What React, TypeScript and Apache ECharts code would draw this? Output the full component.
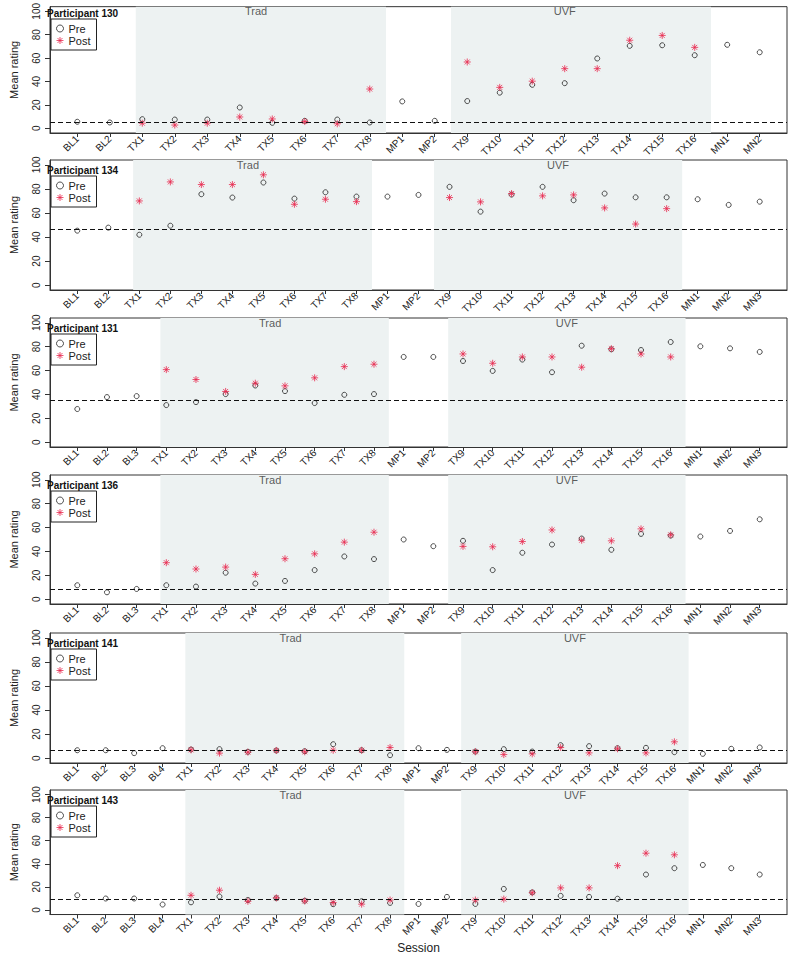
import React, { useEffect, useRef } from "react";
import * as echarts from "echarts";

// ---------- Data ----------
const S130 = ["BL1","BL2","TX1","TX2","TX3","TX4","TX5","TX6","TX7","TX8","MP1","MP2","TX9","TX10","TX11","TX12","TX13","TX14","TX15","TX16","MN1","MN2"];
const S134 = ["BL1","BL2","TX1","TX2","TX3","TX4","TX5","TX6","TX7","TX8","MP1","MP2","TX9","TX10","TX11","TX12","TX13","TX14","TX15","TX16","MN1","MN2","MN3"];
const S131 = ["BL1","BL2","BL3","TX1","TX2","TX3","TX4","TX5","TX6","TX7","TX8","MP1","MP2","TX9","TX10","TX11","TX12","TX13","TX14","TX15","TX16","MN1","MN2","MN3"];
const S136 = S131;
const S141 = ["BL1","BL2","BL3","BL4","TX1","TX2","TX3","TX4","TX5","TX6","TX7","TX8","MP1","MP2","TX9","TX10","TX11","TX12","TX13","TX14","TX15","TX16","MN1","MN2","MN3"];
const S143 = S141;

const PRE130 = [5.6,5,7.8,7.5,7.5,17.8,4.7,6.4,7.5,5,23,6.4,23.3,30.5,37.2,38.6,59.7,70.5,71,62.5,71.4,65];
const POST130 = [null,null,4.4,2.8,4.4,9.7,8,5.8,3.9,33.6,null,null,56.7,35,40.3,51,51,75.3,79.4,69.2,null,null];

const PRE134 = [45.3,47.8,41.9,49.4,75.6,72.8,85.3,71.9,77.2,73.6,73.6,75,81.7,61.1,75.3,81.7,70.6,76.1,73,73,71.4,66.7,69.4];
const POST134 = [null,null,70,85.8,83.6,83.6,91.7,67.2,71.4,69.4,null,null,72.8,69.2,76.1,74.2,75,64.2,50.8,63.6,null,null,null];

const PRE131 = [27.8,37.8,38.6,31.1,33.6,40.3,47.5,42.8,32.8,39.7,40.3,71.4,71.4,68,59.7,69.2,58.6,80.8,77.8,77.2,83.9,80.3,78.6,75.6];
const POST131 = [null,null,null,60.8,52.5,42.5,49.4,47.2,53.9,63.3,65.3,null,null,73.9,66.1,71.4,71.4,62.8,78.3,73.9,71.4,null,null,null];

const PRE136 = [11.7,5.8,8.6,11.7,10.6,22.2,13.1,15.3,24.4,35.8,33.6,50,44.4,48.9,24.4,38.9,45.8,50.8,41.4,54.7,53.3,52.5,57.2,66.9];
const POST136 = [null,null,null,30.6,25.3,26.9,20.8,33.9,38,47.8,56.1,null,null,44.2,43.9,48.3,58,49.4,48.9,58.9,53.9,null,null,null];

const PRE141 = [6.6,6.6,4.2,8.3,7.2,7.5,5.3,6.4,5.8,11.6,6.6,2.5,8.3,6.9,5.5,7.5,5.5,10.8,10,8.3,8.6,5,3.6,7.8,8.9];
const POST141 = [null,null,null,null,6.9,4.2,5,6.4,5.3,6.6,6.6,8.9,null,null,5.3,3,3.6,8.9,4.4,7.8,4.4,13.6,null,null,null];

const PRE143 = [12.7,9.9,9.9,4.7,6.6,11.6,8.6,10.2,8,5,7.5,6.1,5.2,11.3,5.2,18.2,15.2,12.2,11.3,9.7,30.7,36.2,39,36.2,30.7];
const POST143 = [null,null,null,null,12.7,17.1,7.5,10.5,7.7,6.4,5,8.6,null,null,8.6,9.4,14.9,19.1,19.1,38.4,49.2,47.8,null,null,null];

const PARTICIPANTS = ["130","134","131","136","141","143"];
const SESSIONS = [S130, S134, S131, S136, S141, S143];
const PRE = [PRE130, PRE134, PRE131, PRE136, PRE141, PRE143];
const POST = [POST130, POST134, POST131, POST136, POST141, POST143];
const BASELINE = [5.3, 46.5, 35.3, 8.7, 6.4, 9.5];
const Y_TICKS = [0, 20, 40, 60, 80, 100];
const PHASES = ["Trad", "UVF"];

// ---------- Layout / style ----------
const GRID_TOPS = [3, 160, 318, 475, 633, 790];
const GRID_H = [130, 130, 129, 129, 130, 130];
const UVF_LABEL_SHIFT = [3.0, 3.5, 3.5, 3.5, 3.5, 3.5];
const FONT = "'Liberation Sans', Arial, Helvetica, sans-serif";
const RED = "#e8294f";
const INK = "#222";
const SHADE = "#edf2f2";
const ASTERISK = "path://M0,-10L0,10M-10,0L10,0M-7.07,-7.07L7.07,7.07M-7.07,7.07L7.07,-7.07";

function buildOption() {
  const grid: any[] = [];
  const xAxis: any[] = [];
  const yAxis: any[] = [];
  const series: any[] = [];
  const legend: any[] = [];
  const title: any[] = [];

  PARTICIPANTS.forEach((pid, i) => {
    const sessions = SESSIONS[i];
    const n = sessions.length;
    const pad = 0.04 * (n - 1);
    const ticks = sessions.map((_, k) => k + 1);
    const pos = (name: string) => sessions.indexOf(name) + 1;
    const tradStart = pos("TX1") - 0.2;
    const tradEnd = pos("TX8") + 0.5;
    const uvfStart = pos("TX9") - 0.5;
    const uvfEnd = pos("TX16") + 0.5;

    grid.push({
      left: 40, right: 3, top: GRID_TOPS[i], height: GRID_H[i],
      show: true, borderColor: "#333", borderWidth: 1, backgroundColor: "transparent",
    });
    xAxis.push({
      type: "value", gridIndex: i, min: 1 - pad, max: n + pad,
      axisLine: { show: true, onZero: false, lineStyle: { color: "#333", width: 1 } },
      axisTick: { show: true, customValues: ticks, length: 4, lineStyle: { color: "#333" } },
      axisLabel: {
        customValues: ticks, rotate: 45, margin: 4, fontSize: 10, color: INK, fontFamily: FONT,
        padding: [10, 0, 0, 0],
        formatter: (v: number) => sessions[Math.round(v) - 1] ?? "",
      },
      splitLine: { show: false },
      name: i === 5 ? "Session" : "",
      nameLocation: "middle", nameGap: 27,
      nameTextStyle: { fontSize: 12, color: INK, fontFamily: FONT },
    });
    yAxis.push({
      type: "value", gridIndex: i, min: -4, max: 104,
      axisLine: { show: true, onZero: false, lineStyle: { color: "#333", width: 1 } },
      axisTick: { show: true, customValues: Y_TICKS, length: 5, lineStyle: { color: "#333" } },
      axisLabel: { customValues: Y_TICKS, rotate: 90, margin: 9, fontSize: 10, color: INK, fontFamily: FONT },
      splitLine: { show: false },
      name: "Mean rating", nameLocation: "middle", nameGap: 31, nameRotate: 90,
      nameTextStyle: { fontSize: 11, color: INK, fontFamily: FONT },
    });

    // shading, phase labels, baseline
    series.push({
      type: "scatter", xAxisIndex: i, yAxisIndex: i, z: 1, silent: true,
      symbolSize: 1, itemStyle: { color: "rgba(0,0,0,0)" },
      data: [
        [pos("TX1") + 3.5, 100, PHASES[0]],
        [pos("TX9") + UVF_LABEL_SHIFT[i], 100, PHASES[1]],
      ],
      label: {
        show: true, position: "inside", formatter: (p: any) => p.data[2],
        fontSize: 11, color: "#333", fontFamily: FONT,
      },
      markArea: {
        silent: true,
        itemStyle: { color: SHADE },
        data: [
          [{ coord: [tradStart, -4] }, { coord: [tradEnd, 104] }],
          [{ coord: [uvfStart, -4] }, { coord: [uvfEnd, 104] }],
        ],
      },
      markLine: {
        silent: true, symbol: ["none", "none"], label: { show: false },
        lineStyle: { color: "#111", type: [5, 3], width: 1.1 },
        data: [{ yAxis: BASELINE[i] }],
      },
    });

    series.push({
      type: "scatter", name: "Pre", xAxisIndex: i, yAxisIndex: i, z: 3,
      symbol: "circle", symbolSize: 5,
      itemStyle: { color: "rgba(0,0,0,0)", borderColor: "#222", borderWidth: 1 },
      data: PRE[i].flatMap((v, k) => (v == null ? [] : [[k + 1, v]])),
    });
    series.push({
      type: "scatter", name: "Post", xAxisIndex: i, yAxisIndex: i, z: 4,
      symbol: ASTERISK, symbolSize: 7,
      itemStyle: { color: RED, borderColor: RED, borderWidth: 1 },
      data: POST[i].flatMap((v, k) => (v == null ? [] : [[k + 1, v]])),
    });

    legend.push({
      show: true, orient: "vertical", left: 51, top: GRID_TOPS[i] + 16,
      data: [
        {
          name: "Pre", icon: "circle",
          itemStyle: { color: "rgba(0,0,0,0)", borderColor: "#222", borderWidth: 1 },
        },
        {
          name: "Post", icon: ASTERISK,
          itemStyle: { color: RED, borderColor: RED, borderWidth: 1 },
        },
      ],
      itemWidth: 7, itemHeight: 7, itemGap: 1, padding: [4, 6, 4, 5],
      borderColor: "#222", borderWidth: 1, backgroundColor: "#fff", selectedMode: false,
      textStyle: { fontSize: 11, color: INK, fontFamily: FONT, lineHeight: 11 },
    });
    title.push({
      text: `Participant ${pid}`, left: 47, top: GRID_TOPS[i] + 5, padding: 0,
      textStyle: { fontSize: 10, fontWeight: "bold", color: "#111", fontFamily: FONT },
    });
  });

  return { animation: false, backgroundColor: "#fff", grid, xAxis, yAxis, series, legend, title };
}

export default function App() {
  const ref = useRef<HTMLDivElement>(null);
  useEffect(() => {
    if (!ref.current) return;
    const chart = echarts.init(ref.current, undefined, { renderer: "svg" });
    chart.setOption(buildOption() as any);
    return () => chart.dispose();
  }, []);
  return (
    <div
      ref={ref}
      style={{ position: "absolute", left: 0, top: 0, width: 790, height: 955, background: "#fff" }}
    />
  );
}
